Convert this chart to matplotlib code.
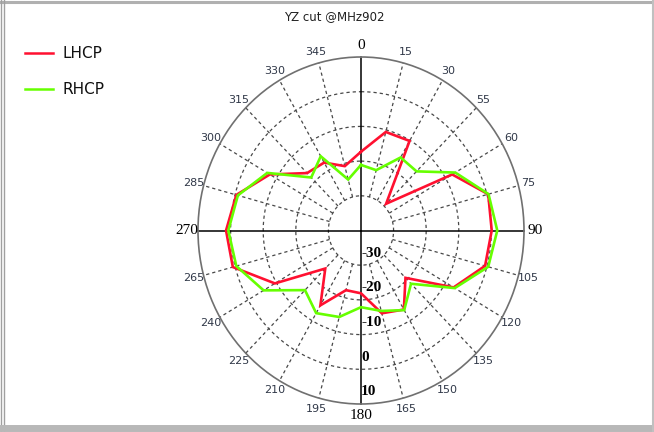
import numpy as np
import matplotlib
matplotlib.use('Agg')
import matplotlib.pyplot as plt
from matplotlib.lines import Line2D

# ---------------- data ----------------
angles_deg = [0, 15, 30, 45, 60, 75, 90, 105, 120, 135, 150, 165,
              180, 195, 210, 225, 240, 255, 270, 285, 300, 315, 330, 345]
lhcp = [-17.3, -10.6, -10.2, -29.1, -7.7, 0.4, 0.1, -0.6, -7.2, -20.7, -13.7, -15.3,
        -21.9, -22.2, -15.1, -24.5, -9.5, 0.7, 1.4, -0.4, -7.7, -16.6, -17.4, -20.8]
rhcp = [-21.1, -22.0, -15.7, -15.9, -6.6, 0.5, 1.8, 0.4, -6.8, -18.3, -13.5, -16.0,
        -17.9, -14.2, -12.5, -15.7, -5.5, -0.4, 0.7, -0.9, -6.8, -18.4, -15.3, -24.8]
angle_labels = ['0', '15', '30', '55', '60', '75', '90', '105', '120', '135', '150', '165',
                '180', '195', '210', '225', '240', '265', '270', '285', '300', '315', '330', '345']
radial_ticks = [-30, -20, -10, 0, 10]
r_min, r_max = -40, 10
title = 'YZ cut @MHz902'
series_names = ['LHCP', 'RHCP']
series_colors = ['#ff1030', '#66ff00']

W, H = 654, 432
fig = plt.figure(figsize=(W / 100, H / 100), dpi=100)
fig.patch.set_facecolor('white')

# window frame
def fline(x0, y0, x1, y1, **kw):
    fig.add_artist(Line2D([x0 / W, x1 / W], [1 - y0 / H, 1 - y1 / H], **kw))

fline(0, 1.5, W, 1.5, color='#b0b0b0', lw=2.2)
fline(1, 0, 1, H, color='#a0a0a0', lw=1.0)
fline(4, 0, 4, H, color='#a0a0a0', lw=1.0)
fline(0, 428, W, 428, color='#b8b8b8', lw=5)
fline(W - 1.5, 0, W - 1.5, H, color='#c0c0c0', lw=1.5)

cx, cy, rx, ry = 361, 230.5, 163, 173.5
ax = fig.add_axes([(cx - rx) / W, 1 - (cy + ry) / H, 2 * rx / W, 2 * ry / H],
                  projection='polar')
ax.set_aspect('auto')
ax.set_theta_zero_location('N')
ax.set_theta_direction(-1)
ax.set_ylim(r_min, r_max)
ax.grid(False)
ax.set_xticks([])
ax.set_yticks([])
ax.spines['polar'].set_color('#707070')
ax.spines['polar'].set_linewidth(1.2)
ax.patch.set_alpha(0)

th_full = np.linspace(0, 2 * np.pi, 400)
dash = (0, (2.6, 2.4))
for v in radial_ticks[:-1]:
    ax.plot(th_full, np.full_like(th_full, v), ls=dash, color='#484848', lw=0.9)

for a in angles_deg:
    t = np.deg2rad(a)
    if a % 90 == 0:
        ax.plot([t, t], [r_min, r_max], color='black', lw=1.1, clip_on=False)
    else:
        ax.plot([t, t], [radial_ticks[0], r_max], ls=dash, color='#484848', lw=0.9)

th = np.deg2rad(angles_deg + [angles_deg[0]])
for vals, col in zip([lhcp, rhcp], series_colors):
    ax.plot(th, vals + [vals[0]], color=col, lw=1.9, solid_joinstyle='miter')

for a, lab in zip(angles_deg, angle_labels):
    t = np.deg2rad(a)
    if a % 90 == 0:
        ax.text(t, 13.3, lab, ha='center', va='center', fontsize=11,
                family='Liberation Serif', color='black')
    else:
        ax.text(t, 13.2, lab, ha='center', va='center', fontsize=8, color='#303848')

for v in radial_ticks:
    ax.text(np.pi, v - 3.5, f'{v}', ha='left', va='center', fontsize=11,
            family='Liberation Serif', fontweight='bold', color='black')

fig.text(334 / W, 1 - 17 / H, title, ha='center', va='center', fontsize=8.5, color='#202020')

for i, (name, col) in enumerate(zip(series_names, series_colors)):
    y = 53 + 36 * i
    fline(25, y, 53, y, color=col, lw=1.8)
    fig.text(63 / W, 1 - y / H, name, ha='left', va='center', fontsize=11, color='#101010')

fig.savefig('out.png', dpi=100, facecolor='white')
